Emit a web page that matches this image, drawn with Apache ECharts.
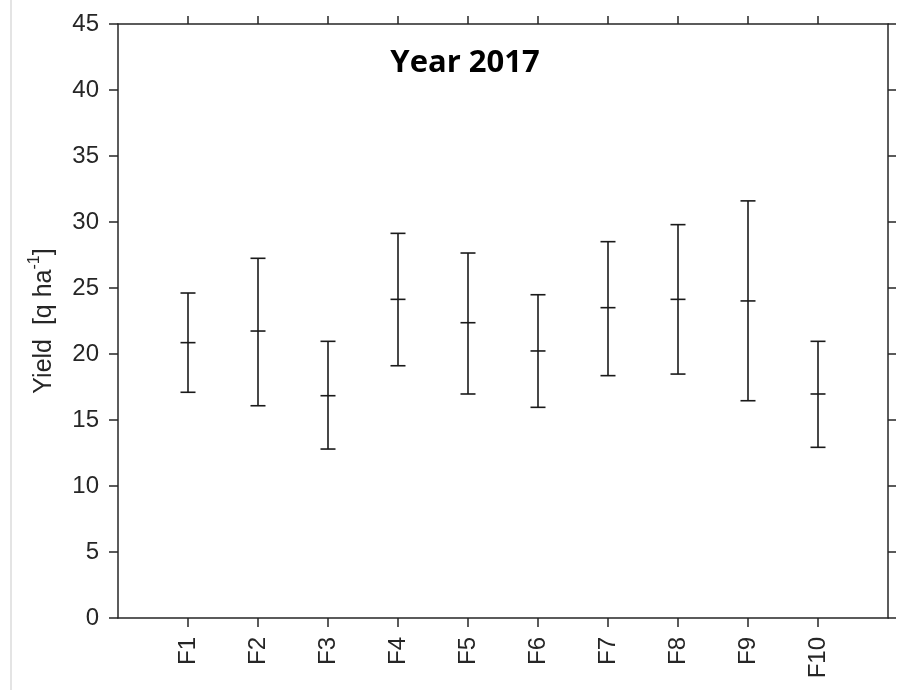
<!DOCTYPE html>
<html>
<head>
<meta charset="utf-8">
<script src="https://cdn.jsdelivr.net/npm/echarts@6/dist/echarts.min.js"></script>
<style>html,body{margin:0;padding:0;background:#fff;}#c{width:906px;height:690px;}</style>
</head>
<body>
<div id="c"></div>
<script>
const categories = ['F1','F2','F3','F4','F5','F6','F7','F8','F9','F10'];
const means  = [20.86, 21.74, 16.84, 24.14, 22.37, 20.23, 23.51, 24.14, 24.02, 16.97];
const lowers = [17.10, 16.08, 12.80, 19.11, 16.97, 15.96, 18.36, 18.48, 16.46, 12.93];
const uppers = [24.62, 27.25, 20.96, 29.14, 27.65, 24.49, 28.51, 29.80, 31.60, 20.96];
const yTicks = [0, 5, 10, 15, 20, 25, 30, 35, 40, 45];

const positions = categories.map((c, i) => i + 1);
const data = categories.map((c, i) => [i + 1, lowers[i], means[i], uppers[i]]);

const axisColor = '#262626';
const lineStyle = { color: axisColor, width: 1.5 };
const labelFont = { fontFamily: 'Liberation Sans', fontSize: 24, color: '#262626' };

const chart = echarts.init(document.getElementById('c'), null, { renderer: 'canvas' });
chart.setOption({
  animation: false,
  backgroundColor: '#fff',
  title: {
    text: 'Year 2017',
    left: 460, top: 43, textAlign: 'center',
    textStyle: { fontFamily: 'Open Sans', fontWeight: 'bold', fontSize: 31, color: '#000' }
  },
  graphic: [{
    type: 'line', shape: { x1: 11, y1: 0, x2: 11, y2: 690 },
    style: { stroke: '#e4e4e4', lineWidth: 2 }
  }],
  grid: { left: 118, right: 18, top: 24, bottom: 72, containLabel: false },
  xAxis: [{
    type: 'value', position: 'bottom', min: 0, max: 11, interval: 1,
    axisLine: { show: true, onZero: false, lineStyle: lineStyle },
    axisTick: { show: true, inside: false, length: 9, lineStyle: lineStyle, customValues: positions },
    axisLabel: { show: true, rotate: 90, margin: 19, customValues: positions,
      formatter: v => categories[v - 1] || '', ...labelFont },
    splitLine: { show: false }
  }, {
    type: 'value', position: 'top', min: 0, max: 11, interval: 1,
    axisLine: { show: true, onZero: false, lineStyle: lineStyle },
    axisTick: { show: true, inside: false, length: 8, lineStyle: lineStyle, customValues: positions },
    axisLabel: { show: false },
    splitLine: { show: false }
  }],
  yAxis: [{
    type: 'value', position: 'left', min: 0, max: 45, interval: 5,
    axisLine: { show: true, onZero: false, lineStyle: lineStyle },
    axisTick: { show: true, inside: false, length: 9, lineStyle: lineStyle, customValues: yTicks },
    axisLabel: { show: true, margin: 19, customValues: yTicks, ...labelFont },
    splitLine: { show: false },
    name: '{a|Yield  [q ha}{s|-1}{a|]}',
    nameLocation: 'middle', nameRotate: 90, nameGap: 61,
    nameTextStyle: {
      rich: {
        a: { fontFamily: 'Liberation Sans', fontSize: 25, color: '#262626', lineHeight: 30, verticalAlign: 'bottom' },
        s: { fontFamily: 'Liberation Sans', fontSize: 16, color: '#262626', lineHeight: 30, verticalAlign: 'top' }
      }
    }
  }, {
    type: 'value', position: 'right', min: 0, max: 45, interval: 5,
    axisLine: { show: true, onZero: false, lineStyle: lineStyle },
    axisTick: { show: true, inside: false, length: 8, lineStyle: lineStyle, customValues: yTicks },
    axisLabel: { show: false },
    splitLine: { show: false }
  }],
  series: [{
    type: 'custom',
    xAxisIndex: 0, yAxisIndex: 0,
    data: data,
    renderItem: function (params, api) {
      const x = api.value(0);
      const lo = api.coord([x, api.value(1)]);
      const mid = api.coord([x, api.value(2)]);
      const hi = api.coord([x, api.value(3)]);
      const hw = 7.5;
      const st = { stroke: '#1a1a1a', lineWidth: 1.6 };
      return {
        type: 'group',
        children: [
          { type: 'line', shape: { x1: lo[0], y1: lo[1], x2: hi[0], y2: hi[1] }, style: st },
          { type: 'line', shape: { x1: lo[0] - hw, y1: lo[1], x2: lo[0] + hw, y2: lo[1] }, style: st },
          { type: 'line', shape: { x1: hi[0] - hw, y1: hi[1], x2: hi[0] + hw, y2: hi[1] }, style: st },
          { type: 'line', shape: { x1: mid[0] - hw, y1: mid[1], x2: mid[0] + hw, y2: mid[1] }, style: st }
        ]
      };
    }
  }]
});
</script>
</body>
</html>
